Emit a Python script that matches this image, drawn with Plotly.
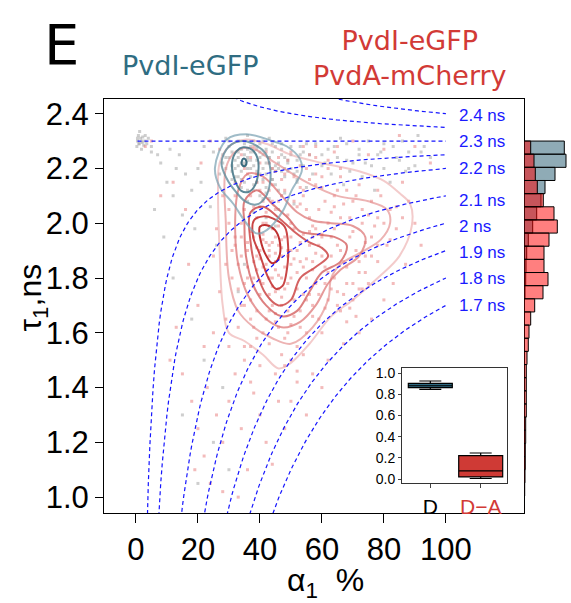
import plotly.graph_objects as go

W, H = 571, 603

# ---------------- data ----------------
# iso mean-lifetime guide lines: tau_mean = a*tau1 + (1-a)*tau2, tau2 fixed
tau2 = 2.3
iso_values = [2.4, 2.35, 2.3, 2.25, 2.2, 2.1, 2.0, 1.9, 1.8, 1.7]
iso_labels = ["2.4 ns", "2.3 ns", "2.2 ns", "2.1 ns", "2 ns", "1.9 ns", "1.8 ns", "1.7 ns"]
iso_label_y = [2.393, 2.297, 2.198, 2.083, 1.987, 1.892, 1.798, 1.701]

# scatter points (alpha1 %, tau1 ns) - PvdI-eGFP (grey)
gray_a = [0.5, 1, 1.5, 2, 0.8, 2.5, 1.2, 3, 1.8, 0.3, 2.2, 3.5,
          5, 8, 10, 12, 6, 14, 16, 18, 20, 22, 9, 15, 19, 24, 21, 11, 17, 25,
          28, 29, 30, 31, 32, 33, 34, 35, 36, 37, 38, 39, 40, 41, 42, 43, 44, 45, 46, 47, 48, 49, 50, 51, 52, 53, 54, 55,
          30, 32, 33, 34, 35, 36, 36, 37, 38, 39, 40, 41, 42, 43, 44, 45, 46, 47, 48, 35, 33, 34, 37, 38, 39, 41, 42, 44,
          31, 29, 36, 40, 43, 47, 50, 52, 56, 58, 60, 57, 38, 42, 36, 40, 45,
          62, 65, 68, 70, 72, 75, 78, 80, 83, 85, 88, 90, 93, 95, 63, 67, 73, 77, 82, 66, 86, 91,
          12, 18, 22, 28, 15, 25, 30, 20, 35, 26, 33,
          27, 29, 31, 33, 35, 37, 39, 41, 43, 45, 47, 49, 51, 53, 55,
          30, 32, 34, 36, 38, 40, 42, 44, 46, 48, 50, 52, 54,
          28, 31, 34, 37, 40, 43, 46, 49, 52, 33, 36, 39, 42, 45, 48, 35, 38, 41, 44, 47,
          60, 64, 68, 72, 76, 80, 84, 88, 92, 61, 69, 74, 79, 87,
          4, 2, 1, 3, 0.5, 5, 7, 13]
gray_t = [2.30, 2.29, 2.31, 2.295, 2.32, 2.285, 2.335, 2.30, 2.27, 2.28, 2.315, 2.29,
          2.26, 2.22, 2.15, 2.10, 2.05, 2.25, 2.18, 2.12, 2.20, 2.28, 1.95, 2.03, 1.98, 2.06, 2.15, 2.27, 2.30, 2.26,
          2.25, 2.20, 2.28, 2.16, 2.23, 2.30, 2.19, 2.25, 2.12, 2.28, 2.21, 2.15, 2.24, 2.30, 2.18, 2.09, 2.26, 2.14, 2.22, 2.29, 2.11, 2.19, 2.25, 2.07, 2.16, 2.28, 2.21, 2.13,
          2.24, 2.17, 2.26, 2.22, 2.29, 2.20, 2.24, 2.17, 2.26, 2.23, 2.10, 2.20, 2.27, 2.22, 2.16, 2.28, 2.05, 2.19, 2.24, 2.15, 2.21, 2.27, 2.23, 2.30, 2.19, 2.25, 2.13, 2.20,
          2.26, 2.31, 2.32, 2.29, 2.31, 2.25, 2.20, 2.23, 2.25, 2.29, 2.21, 2.18, 2.04, 2.02, 2.08, 2.06, 1.99,
          2.27, 2.24, 2.29, 2.22, 2.27, 2.30, 2.25, 2.20, 2.28, 2.23, 2.26, 2.21, 2.28, 2.24, 2.18, 2.14, 2.17, 2.12, 2.15, 2.31, 2.30, 2.32,
          1.80, 1.65, 1.50, 1.40, 1.30, 1.20, 1.10, 1.05, 1.85, 1.92, 1.75,
          2.18, 2.24, 2.21, 2.17, 2.22, 2.26, 2.28, 2.16, 2.24, 2.19, 2.27, 2.22, 2.18, 2.25, 2.29,
          2.30, 2.20, 2.13, 2.27, 2.14, 2.18, 2.22, 2.29, 2.12, 2.20, 2.28, 2.15, 2.26,
          2.22, 2.19, 2.16, 2.20, 2.26, 2.24, 2.20, 2.23, 2.19, 2.24, 2.23, 2.27, 2.11, 2.21, 2.17, 2.21, 2.12, 2.09, 2.16, 2.10,
          2.25, 2.28, 2.23, 2.25, 2.21, 2.29, 2.24, 2.20, 2.26, 2.22, 2.19, 2.22, 2.26, 2.19,
          2.31, 2.30, 2.29, 2.32, 2.31, 2.28, 2.25, 2.20]

# scatter points - PvdI-eGFP + PvdA-mCherry (red)
red_a = [38, 40, 42, 44, 46, 41, 43, 45, 47, 39, 37, 48, 50, 52, 49, 51, 44, 42, 46, 53, 55, 57, 59, 61, 63, 58, 60, 62, 65, 67,
         64, 69, 71, 66, 56, 54, 36, 35, 37, 39, 41, 43, 45, 47, 49, 51, 53, 48, 44, 40, 36, 34, 33, 35, 37, 39, 41, 48, 50, 52,
         55, 57, 59, 62, 65, 68, 72, 74, 76, 78, 73, 70, 68, 64, 60, 58, 55, 62, 66, 72, 79, 82, 84, 81, 78, 75, 70, 66, 60, 54,
         47, 43, 38, 34, 31, 32, 30, 32, 34, 38, 42, 46, 50, 54, 58, 42, 43, 45, 47, 40, 44, 46, 48, 41, 43, 45, 39, 42, 44, 46,
         50, 52, 54, 56, 58, 61, 63, 57, 47, 49, 45, 40, 38, 36, 50, 53,
         86, 88, 90, 92, 87, 83, 80, 76, 72, 67, 62, 57, 52, 45, 40, 95, 90, 85, 80, 75, 70, 65, 28, 26, 25, 27, 29, 30,
         15, 18, 20, 22, 24, 26, 28, 30, 32, 34, 36, 38, 40, 42, 44, 46, 48, 35, 25, 20, 17, 13, 11, 23, 28, 33, 19, 22, 37, 50,
         55, 60, 16, 12, 8, 21, 5, 3, 24, 27,
         39, 41, 43, 45, 47, 49, 51, 53, 55, 57, 40, 42, 44, 46, 48, 50, 52, 54, 56, 58,
         38, 40, 42, 44, 46, 48, 50, 52, 54, 56, 60, 62, 64, 66, 68, 70, 72, 74, 76, 78,
         59, 61, 63, 65, 67, 69, 71, 73, 75, 77, 43, 45, 47, 49, 51, 53, 55, 57, 59, 61,
         35, 37, 39, 41, 43, 45, 47, 49, 51, 53, 34, 36, 38, 36, 34, 32, 33, 35, 37, 39,
         63, 65, 67, 69, 71, 73, 58, 60, 56, 54, 80, 82, 84, 86, 78, 76, 74, 72, 70, 68,
         41, 43, 45, 47, 49, 51, 39, 41, 44, 46, 30, 32, 31, 29, 33, 35, 37, 48, 50, 52,
         62, 66, 64, 58, 56, 60, 57, 55, 53, 64]
red_t = [1.95, 1.90, 1.85, 1.98, 1.92, 2.00, 1.80, 1.75, 1.88, 1.83, 1.97, 1.95, 1.85, 1.90, 1.78, 1.72, 1.70, 1.65, 1.62, 1.68,
         1.80, 1.86, 1.92, 1.84, 1.88, 1.78, 1.95, 2.00, 1.92, 1.86, 1.80, 1.95, 1.90, 2.02, 2.02, 1.96, 1.90, 2.05, 2.10, 2.15,
         2.08, 2.12, 2.05, 2.10, 2.03, 2.08, 2.13, 2.18, 2.20, 2.22, 2.18, 1.95, 1.85, 1.78, 1.72, 1.68, 1.60, 1.58, 1.63, 1.55,
         1.60, 1.70, 1.65, 1.72, 1.75, 1.78, 1.82, 1.88, 1.95, 2.02, 2.05, 2.08, 2.12, 2.10, 2.13, 2.18, 2.20, 2.20, 2.17, 2.14,
         2.10, 2.05, 1.98, 1.92, 1.86, 1.78, 1.72, 1.68, 1.60, 1.52, 1.52, 1.56, 1.62, 1.70, 1.80, 1.95, 2.05, 2.15, 2.25, 2.28,
         2.26, 2.24, 2.26, 2.28, 2.24, 1.93, 1.88, 1.83, 1.80, 1.87, 1.93, 1.87, 1.84, 1.78, 1.74, 1.95, 2.02, 2.04, 2.08, 1.99,
         1.95, 1.82, 1.74, 1.92, 1.98, 1.78, 1.95, 1.83, 1.73, 1.68, 1.67, 1.74, 1.80, 1.84, 1.90, 1.86,
         2.15, 2.08, 2.00, 1.92, 1.85, 1.78, 1.72, 1.65, 1.60, 1.56, 1.50, 1.45, 1.42, 1.45, 1.48, 2.22, 2.28, 2.32, 2.27, 2.25,
         2.30, 2.28, 2.10, 1.98, 1.88, 1.75, 1.65, 1.55,
         1.45, 1.35, 1.25, 1.15, 1.05, 1.30, 1.20, 1.35, 1.45, 1.25, 1.10, 1.38, 1.30, 1.20, 1.12, 1.35, 1.25, 1.55, 1.60, 1.70,
         1.85, 1.62, 1.50, 1.40, 1.02, 1.00, 1.10, 1.55, 1.42, 1.35, 1.30, 1.40, 2.05, 2.15, 2.10, 2.22, 2.30, 2.28, 2.30, 2.27,
         1.88, 1.96, 1.92, 1.86, 1.94, 1.90, 1.98, 1.93, 1.87, 1.95, 1.79, 1.83, 1.77, 1.81, 1.76, 1.80, 1.76, 1.84, 1.74, 1.89,
         2.06, 2.12, 2.00, 2.14, 2.08, 2.12, 2.00, 2.06, 2.10, 1.97, 1.88, 1.82, 1.98, 1.90, 1.84, 1.97, 1.86, 1.93, 1.88, 1.92,
         2.05, 2.08, 2.04, 2.12, 2.07, 2.02, 2.10, 2.00, 2.03, 1.99, 1.68, 1.64, 1.70, 1.60, 1.66, 1.62, 1.72, 1.66, 1.74, 1.69,
         2.20, 2.24, 2.18, 2.15, 2.22, 2.19, 2.16, 2.23, 2.17, 2.21, 2.00, 1.93, 1.86, 1.80, 1.88, 1.92, 1.76, 1.70, 1.65, 1.58,
         1.76, 1.70, 1.74, 1.69, 1.66, 1.76, 2.14, 2.17, 2.16, 2.12, 2.00, 1.94, 2.06, 2.02, 2.12, 2.08, 1.82, 1.76, 1.78, 1.64,
         1.94, 1.90, 1.89, 1.91, 1.88, 1.87, 1.91, 1.84, 1.80, 1.76, 2.00, 2.10, 1.90, 1.85, 1.62, 1.50, 1.55, 1.48, 1.50, 1.46,
         2.23, 2.20, 2.26, 2.28, 2.25, 1.96, 1.99, 2.05, 2.07, 2.06]

# density contour lines (alpha1 %, tau1 ns), outer -> inner
blue_contours = [
    ([25.5, 29.3, 35.7, 44.3, 48.6, 52.9, 53.5, 50.2, 47.5, 42.2, 38.9, 35.7, 31.4, 27.1, 25.5],
     [2.203, 2.306, 2.325, 2.299, 2.281, 2.235, 2.190, 2.119, 2.047, 1.975, 1.963, 1.999, 2.071, 2.131, 2.203]),
    ([27.6, 30.0, 34.6, 38.9, 41.8, 43.2, 43.3, 41.8, 38.8, 35.5, 32.2, 29.2, 27.6],
     [2.221, 2.280, 2.300, 2.283, 2.255, 2.210, 2.150, 2.095, 2.068, 2.078, 2.115, 2.165, 2.221]),
    ([31.0, 32.5, 34.6, 37.5, 39.3, 39.5, 38.5, 36.5, 34.0, 32.0, 31.0],
     [2.220, 2.263, 2.277, 2.268, 2.235, 2.190, 2.140, 2.115, 2.118, 2.155, 2.220]),
    ([34.1, 34.7, 35.4, 35.6, 35.0, 34.3, 34.1],
     [2.222, 2.236, 2.232, 2.215, 2.208, 2.212, 2.222]),
]
blue_colors = ["rgba(120,160,176,0.7)", "rgba(95,140,156,0.8)", "rgba(70,118,136,0.88)", "rgba(50,100,120,0.95)"]

red_contours = [
    ([27.0, 30.0, 35.0, 42.0, 50.0, 60.0, 72.0, 80.0, 85.0, 88.5, 89.0, 85.0, 78.0, 70.0, 63.0, 56.0, 50.0, 46.0, 41.0, 35.0, 30.0, 28.0, 27.0, 26.5, 27.0],
     [2.22, 2.28, 2.305, 2.29, 2.25, 2.22, 2.19, 2.155, 2.11, 2.07, 1.99, 1.88, 1.80, 1.72, 1.66, 1.56, 1.49, 1.47, 1.52, 1.57, 1.60, 1.70, 1.90, 2.10, 2.22]),
    ([29.0, 32.0, 37.0, 45.0, 55.0, 65.0, 75.0, 81.0, 82.0, 79.0, 72.0, 66.0, 63.0, 62.0, 57.0, 50.0, 44.0, 38.0, 33.0, 30.0, 29.0, 29.0],
     [2.20, 2.26, 2.275, 2.22, 2.15, 2.10, 2.08, 2.05, 2.00, 1.94, 1.89, 1.85, 1.80, 1.72, 1.62, 1.56, 1.58, 1.62, 1.68, 1.80, 2.00, 2.20]),
    ([33.0, 36.0, 41.0, 47.0, 52.0, 57.0, 63.0, 70.0, 74.0, 72.0, 66.0, 62.0, 58.0, 53.0, 47.0, 41.0, 36.0, 33.0, 32.0, 33.0],
     [2.12, 2.18, 2.17, 2.10, 2.04, 2.01, 2.00, 1.99, 1.95, 1.88, 1.83, 1.78, 1.70, 1.64, 1.62, 1.66, 1.74, 1.85, 1.98, 2.12]),
    ([35.0, 39.0, 44.0, 49.0, 53.0, 58.0, 64.0, 68.0, 66.0, 60.0, 56.0, 52.0, 47.0, 42.0, 38.0, 35.5, 35.0, 35.0],
     [2.08, 2.12, 2.07, 2.02, 1.97, 1.96, 1.95, 1.92, 1.86, 1.82, 1.75, 1.68, 1.66, 1.70, 1.77, 1.88, 2.00, 2.08]),
    ([37.0, 41.0, 46.0, 51.0, 56.0, 60.0, 62.0, 58.0, 53.0, 50.0, 46.0, 42.0, 39.0, 37.0, 37.0],
     [2.04, 2.06, 2.02, 1.97, 1.93, 1.91, 1.88, 1.84, 1.80, 1.72, 1.70, 1.74, 1.82, 1.93, 2.04]),
    ([38.1, 41.1, 44.3, 48.0, 49.1, 48.7, 47.3, 45.1, 42.7, 39.8, 37.8, 38.1],
     [2.011, 2.025, 2.017, 1.987, 1.915, 1.831, 1.771, 1.761, 1.801, 1.891, 1.951, 2.011]),
    ([40.0, 42.2, 44.9, 46.3, 46.5, 45.4, 43.8, 41.6, 40.2, 39.8, 40.0],
     [1.987, 1.993, 1.975, 1.939, 1.891, 1.861, 1.855, 1.891, 1.939, 1.969, 1.987]),
]
red_colors = ["rgba(234,160,160,0.55)", "rgba(228,138,138,0.65)", "rgba(220,115,115,0.72)", "rgba(212,92,92,0.78)",
              "rgba(204,70,70,0.85)", "rgba(196,50,50,0.9)", "rgba(186,36,36,0.95)"]

# marginal histogram of tau1 (bin centres, ns) and bar lengths
hist_bins = [2.276, 2.228, 2.180, 2.132, 2.084, 2.036, 1.988, 1.940, 1.892, 1.844, 1.796, 1.748, 1.700, 1.652,
             1.604, 1.556, 1.508, 1.460, 1.412, 1.364, 1.316, 1.268, 1.220, 1.172, 1.124, 1.076, 1.028, 0.980]
hist_blue = [40.3, 42.0, 31.0, 21.0, 17.0, 12.7, 8.7, 4.3, 2.7, 2.0, 1.7, 1.0, 0.5, 0, 0, 0, 0, 0, 0, 0, 0, 0, 0, 0, 0, 0, 0, 0]
hist_red = [6.7, 10.0, 11.3, 13.3, 19.3, 30.0, 33.3, 25.0, 20.0, 20.0, 24.0, 19.0, 10.7, 6.7,
            5.0, 4.3, 3.0, 2.3, 2.3, 2.3, 2.3, 1.7, 1.7, 1.3, 1.3, 1.0, 0.7, 0.5]

# inset box plot (fraction)
box_pos = [1, 2]
box_low = [0.846, 0.006]
box_q1 = [0.862, 0.021]
box_med = [0.880, 0.077]
box_q3 = [0.903, 0.221]
box_high = [0.925, 0.246]
box_fill = ["#2d6a82", "#cf3a35"]

# ---------------- figure ----------------
fig = go.Figure()

fig.add_trace(go.Scatter(x=gray_a, y=gray_t, mode="markers", hoverinfo="skip",
                         marker=dict(size=3, symbol="square", color="rgba(165,165,165,0.55)", line=dict(width=0))))
fig.add_trace(go.Scatter(x=red_a, y=red_t, mode="markers", hoverinfo="skip",
                         marker=dict(size=3, symbol="square", color="rgba(232,120,120,0.5)", line=dict(width=0))))

for (xs, ys), c in zip(red_contours, red_colors):
    fig.add_trace(go.Scatter(x=xs, y=ys, mode="lines", hoverinfo="skip",
                             line=dict(color=c, width=2, shape="spline", smoothing=1.0)))
for (xs, ys), c in zip(blue_contours, blue_colors):
    fig.add_trace(go.Scatter(x=xs, y=ys, mode="lines", hoverinfo="skip",
                             line=dict(color=c, width=2, shape="spline", smoothing=1.0)))

alpha_grid = [0.5 + 0.5 * i for i in range(200)]
for s in iso_values:
    ys = [(s - (1 - a / 100.0) * tau2) / (a / 100.0) for a in alpha_grid]
    fig.add_trace(go.Scatter(x=alpha_grid, y=ys, mode="lines", hoverinfo="skip",
                             line=dict(color="#1515ff", width=1.2, dash="4px,3px")))

fig.add_trace(go.Bar(y=hist_bins, x=hist_blue, orientation="h", width=0.048, xaxis="x2", yaxis="y2",
                     marker=dict(color="rgba(31,88,110,0.5)", line=dict(color="black", width=1))))
fig.add_trace(go.Bar(y=hist_bins, x=hist_red, orientation="h", width=0.048, xaxis="x2", yaxis="y2",
                     marker=dict(color="rgba(255,0,0,0.5)", line=dict(color="black", width=1))))

for i in range(2):
    fig.add_trace(go.Box(x=[box_pos[i]], q1=[box_q1[i]], median=[box_med[i]], q3=[box_q3[i]],
                         lowerfence=[box_low[i]], upperfence=[box_high[i]], width=0.873,
                         whiskerwidth=0.5, fillcolor=box_fill[i], boxpoints=False,
                         line=dict(color="black", width=1.2), xaxis="x3", yaxis="y3", hoverinfo="skip"))

ydom = [1 - 516 / H, 1 - 97 / H]
tick_font = dict(family="Liberation Sans, Arial", size=31, color="black")

fig.update_layout(
    width=W, height=H, margin=dict(l=0, r=0, t=0, b=0),
    paper_bgcolor="white", plot_bgcolor="white", showlegend=False, barmode="overlay",
    xaxis=dict(domain=[104 / W, 524 / W], range=[-10.3, 125.2], tickvals=[0, 20, 40, 60, 80, 100],
               ticks="outside", ticklen=9, tickcolor="black", showline=True, linecolor="black",
               linewidth=1, mirror=True, showgrid=False, zeroline=False, tickfont=tick_font,
               anchor="y", automargin=False),
    yaxis=dict(domain=ydom, range=[0.942, 2.454], tickvals=[1.0, 1.2, 1.4, 1.6, 1.8, 2.0, 2.2, 2.4],
               ticktext=["1.0", "1.2", "1.4", "1.6", "1.8", "2.0", "2.2", "2.4"],
               ticks="outside", ticklen=8, tickcolor="black", showline=True, linecolor="black",
               linewidth=1, mirror=True, showgrid=False, zeroline=False, tickfont=tick_font,
               anchor="x", automargin=False),
    xaxis2=dict(domain=[524 / W, 1.0], range=[0, 47], visible=False, anchor="y2"),
    yaxis2=dict(domain=ydom, range=[0.942, 2.454], visible=False, anchor="x2"),
    xaxis3=dict(domain=[402 / W, 507 / W], range=[0.438, 2.522], tickvals=box_pos,
                ticktext=["D", "<span style='color:#d23a36'>D\u2212A</span>"],
                ticks="outside", ticklen=4, tickcolor="#444", showline=True, linecolor="#333",
                linewidth=1, mirror=True, showgrid=False, zeroline=False,
                tickfont=dict(family="Liberation Sans, Arial", size=21, color="black"), anchor="y3"),
    yaxis3=dict(domain=[1 - 486 / H, 1 - 369 / H], range=[-0.04, 1.05], tickvals=[0, 0.2, 0.4, 0.6, 0.8, 1.0],
                ticktext=["0.0", "0.2", "0.4", "0.6", "0.8", "1.0"],
                ticks="outside", ticklen=3, tickcolor="#444", showline=True, linecolor="#333",
                linewidth=1, mirror=True, showgrid=False, zeroline=False,
                tickfont=dict(family="Liberation Sans, Arial", size=14, color="black"), anchor="x3"),
)

ann = []
for lab, yv in zip(iso_labels, iso_label_y):
    ann.append(dict(x=103.6, y=yv, xref="x", yref="y", text=lab, showarrow=False, xanchor="left",
                    yanchor="middle", font=dict(family="Liberation Sans, Arial", size=17, color="#1a1aff")))

ann.append(dict(x=325 / W, y=1 - 586 / H, xref="paper", yref="paper", text="\u03b1<sub>1</sub>\u00a0\u00a0%",
                showarrow=False, xanchor="center", yanchor="middle",
                font=dict(family="Liberation Sans, Arial", size=32, color="black")))
ann.append(dict(x=33 / W, y=1 - 298 / H, xref="paper", yref="paper", text="\u03c4<sub>1</sub>,ns",
                showarrow=False, textangle=-90, xanchor="center", yanchor="middle",
                font=dict(family="Liberation Sans, Arial", size=32, color="black")))
ann.append(dict(x=61 / W, y=1 - 42 / H, xref="paper", yref="paper", text="E", showarrow=False,
                xanchor="center", yanchor="middle", font=dict(family="DejaVu Sans", size=56, color="black")))
ann.append(dict(x=190 / W, y=1 - 63 / H, xref="paper", yref="paper", text="PvdI-eGFP", showarrow=False,
                xanchor="center", yanchor="middle", font=dict(family="DejaVu Sans", size=27, color="#2f6d82")))
ann.append(dict(x=410 / W, y=1 - 56 / H, xref="paper", yref="paper", text="PvdI-eGFP<br>PvdA-mCherry",
                showarrow=False, xanchor="center", yanchor="middle",
                font=dict(family="DejaVu Sans", size=27, color="#d23a36")))
fig.update_layout(annotations=ann)

fig.write_html("out.html")
